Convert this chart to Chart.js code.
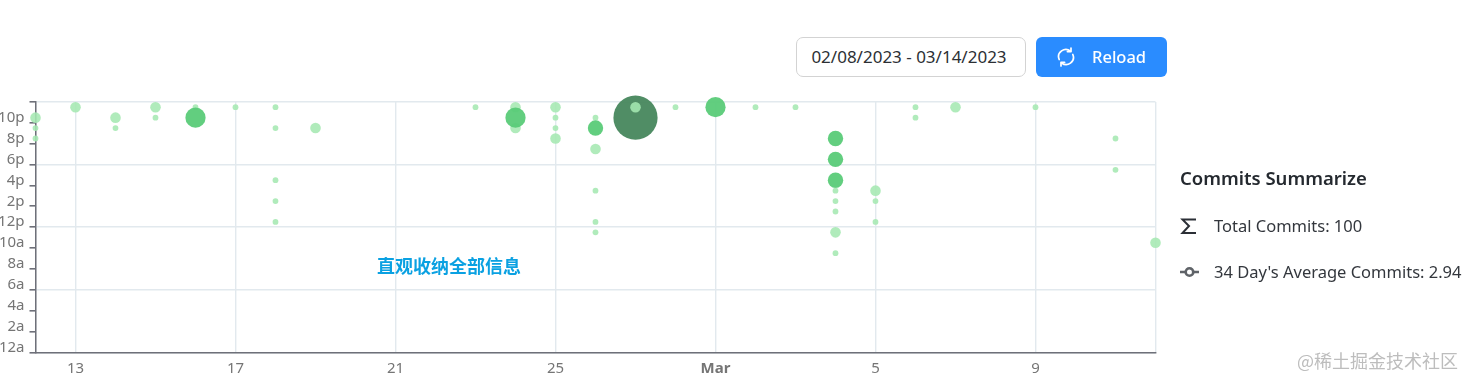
<!DOCTYPE html>
<html>
<head>
<meta charset="utf-8">
<title>Commits Summarize</title>
<script src="https://cdn.jsdelivr.net/npm/chart.js@4"></script>
<style>
    html, body { margin: 0; padding: 0; background: #fff; overflow: hidden; }
    body { width: 1472px; height: 384px; position: relative; font-family: "Noto Sans", sans-serif; color: #24292f; }
    canvas { position: absolute; left: 0; top: 0; }
    .abs { position: absolute; white-space: nowrap; }
    #date-range {
        left: 796px; top: 37px; width: 224px; height: 38px; line-height: 38px; text-align: center; padding-right: 4px;
        border: 1px solid #d3d3d3; border-radius: 7px; font-size: 17px; color: #2c2f34; background: #fff;
    }
    #reload {
        left: 1036px; top: 37px; width: 131px; height: 40px; background: #2a8cff; border-radius: 6px;
        color: #fff; font-size: 16.5px; font-weight: 500; line-height: 40px;
    }
    #reload span { position: absolute; left: 56px; }
    #reload svg { position: absolute; left: 20px; top: 10px; }
    #summary-title { left: 1180px; top: 165px; font-size: 18.5px; font-weight: 600; line-height: 26px; }
    .stat { left: 1214px; font-size: 16.5px; line-height: 22px; color: #33373d; }
    .icon { position: absolute; left: 1180px; }
    #note { left: 377px; top: 252px; font-family: "Noto Sans CJK SC"; font-weight: 700; font-size: 18px; line-height: 26px; color: #0aa1e2; }
    #watermark { left: 1297px; top: 348px; font-family: "Noto Sans CJK SC"; font-size: 18px; line-height: 24px; color: #bdbdbd; }
</style>
</head>
<body>
<canvas id="punchcard" width="1472" height="384"></canvas>

<div class="abs" id="date-range">02/08/2023 - 03/14/2023</div>
<div class="abs" id="reload">
    <svg width="20" height="20" viewBox="0 0 20 20" fill="none" stroke="#fff" stroke-width="1.7" stroke-linecap="round" stroke-linejoin="round">
        <path d="M3.2 12.5A7.2 7.2 0 0 1 14.5 4.2"/>
        <path d="M16.8 7.5A7.2 7.2 0 0 1 5.5 15.8"/>
        <path d="M15 1v3.6h-3.6"/>
        <path d="M5 19v-3.6h3.6"/>
    </svg>
    <span>Reload</span>
</div>

<div class="abs" id="summary-title">Commits Summarize</div>
<svg class="icon" style="top:217px" width="18" height="18" viewBox="0 0 18 18" fill="none" stroke="#2b2f36" stroke-width="2">
    <path d="M16 2.5H2.5L9 9L2.5 16H16"/>
</svg>
<div class="abs stat" style="top:215px">Total Commits: 100</div>
<svg class="icon" style="top:263px" width="19" height="18" viewBox="0 0 19 18" fill="none" stroke="#5f6368" stroke-width="2.6">
    <circle cx="9.5" cy="9" r="3.8"/>
    <path d="M0 9h5.5M13.5 9h5.5"/>
</svg>
<div class="abs stat" style="top:261px">34 Day's Average Commits: 2.94</div>

<div class="abs" id="note">直观收纳全部信息</div>
<div class="abs" id="watermark">@稀土掘金技术社区</div>

<script>
    // Jours comptés depuis le 12 février, heures de 0 à 23
    const commitDays = [
        0, 0, 0, 1, 2, 2, 3, 3, 4, 4, 5, 6, 6, 6, 6, 6, 7,
        11, 12, 12, 12, 13, 13, 13, 13, 14, 14, 14, 14, 14, 14, 15, 15, 16, 17, 18, 19,
        20, 20, 20, 20, 20, 20, 20, 20, 21, 21, 21, 22, 22, 23, 25, 27, 27, 28
    ];
    const commitHours = [
        22, 21, 20, 23, 22, 21, 23, 22, 23, 22, 23, 23, 21, 16, 14, 12, 21,
        23, 23, 21, 22, 23, 22, 21, 20, 22, 21, 19, 15, 12, 11, 22, 23, 23, 23, 23, 23,
        20, 18, 16, 15, 14, 13, 11, 9, 15, 14, 12, 23, 22, 23, 23, 20, 17, 10
    ];
    const commitCounts = [
        2, 1, 1, 2, 2, 1, 2, 1, 1, 4, 1, 1, 1, 1, 1, 1, 2,
        1, 2, 2, 4, 2, 1, 1, 2, 1, 3, 2, 1, 1, 1, 9, 2, 1, 4, 1, 1,
        3, 3, 3, 1, 1, 1, 2, 1, 2, 1, 1, 1, 1, 2, 1, 1, 1, 2
    ];

    const xTickValues = [0, 1, 5, 9, 13, 17, 21, 25, 28];
    const xTickLabels = ['', '13', '17', '21', '25', 'Mar', '5', '9', ''];
    const yTickValues = [0, 2, 4, 6, 8, 10, 12, 14, 16, 18, 20, 22, 24];
    const yTickLabels = ['12a', '2a', '4a', '6a', '8a', '10a', '12p', '2p', '4p', '6p', '8p', '10p', ''];

    // Couleur selon le nombre de commits
    function couleurCommits(count) {
        if (count >= 9) return 'rgba(76, 139, 98, 0.98)';
        if (count >= 3) return 'rgba(90, 203, 120, 0.95)';
        return 'rgba(165, 232, 178, 0.88)';
    }

    const points = commitDays.map((day, i) => ({
        x: day,
        y: commitHours[i] + 0.5,
        r: commitCounts[i] * 2.4 + 0.5
    }));

    const axisColor = '#6e7079';
    const gridColor = '#e2e9ee';
    const labelColor = '#757575';
    const labelFamily = '"Noto Sans", sans-serif';

    new Chart(document.getElementById('punchcard'), {
        type: 'bubble',
        data: {
            datasets: [{
                label: 'Commits',
                data: points,
                clip: false,
                borderWidth: 0,
                hoverBorderWidth: 0,
                backgroundColor: (ctx) => couleurCommits(commitCounts[ctx.dataIndex])
            }]
        },
        options: {
            responsive: false,
            animation: false,
            layout: { padding: { top: 102, right: 316.5, left: 0, bottom: 0 } },
            plugins: { legend: { display: false }, tooltip: { enabled: false } },
            scales: {
                x: {
                    type: 'linear',
                    min: 0,
                    max: 28,
                    afterBuildTicks: (scale) => { scale.ticks = xTickValues.map((value) => ({ value })); },
                    afterFit: (scale) => { scale.height = 31.7; },
                    border: { color: axisColor, width: 1.5 },
                    grid: { color: gridColor, lineWidth: 1.4, drawTicks: false },
                    ticks: {
                        autoSkip: false,
                        maxRotation: 0,
                        padding: 7,
                        color: labelColor,
                        font: (ctx) => ({
                            family: labelFamily,
                            size: 15,
                            weight: ctx.tick && ctx.tick.value === 17 ? 'bold' : 'normal'
                        }),
                        callback: (value) => xTickLabels[xTickValues.indexOf(value)]
                    }
                },
                y: {
                    type: 'linear',
                    min: 0,
                    max: 24,
                    afterBuildTicks: (scale) => { scale.ticks = yTickValues.map((value) => ({ value })); },
                    afterFit: (scale) => { scale.width = 35.5; },
                    border: { color: axisColor, width: 1.5 },
                    grid: {
                        // Lignes horizontales toutes les 6 heures seulement
                        color: (ctx) => (ctx.tick.value % 6 === 0 ? gridColor : 'rgba(0,0,0,0)'),
                        tickColor: axisColor,
                        tickLength: 6,
                        lineWidth: 1.6
                    },
                    ticks: {
                        autoSkip: false,
                        padding: 5,
                        labelOffset: -5,
                        color: labelColor,
                        font: { family: labelFamily, size: 15 },
                        callback: (value) => yTickLabels[yTickValues.indexOf(value)]
                    }
                }
            }
        }
    });
</script>
</body>
</html>
